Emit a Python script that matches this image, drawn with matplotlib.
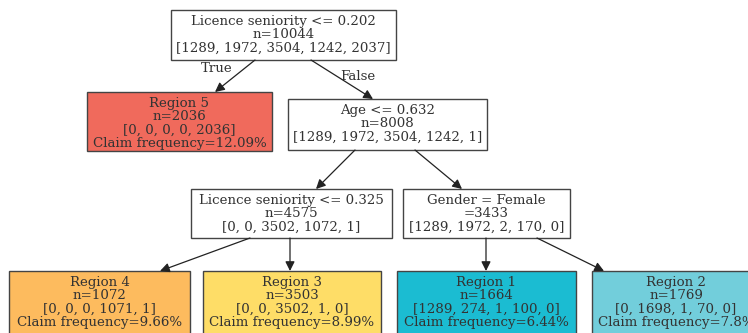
import matplotlib
matplotlib.use('Agg')
import matplotlib.pyplot as plt
from matplotlib.patches import Rectangle, FancyArrowPatch

# node texts
node_names = ['root', 'r5', 'age', 'lic', 'gender', 'r4', 'r3', 'r1', 'r2']
node_labels = [
    'Licence seniority <= 0.202\nn=10044\n[1289, 1972, 3504, 1242, 2037]',
    'Region 5\nn=2036\n[0, 0, 0, 0, 2036]\nClaim frequency=12.09%',
    'Age <= 0.632\nn=8008\n[1289, 1972, 3504, 1242, 1]',
    'Licence seniority <= 0.325\nn=4575\n[0, 0, 3502, 1072, 1]',
    'Gender = Female\n=3433\n[1289, 1972, 2, 170, 0]',
    'Region 4\nn=1072\n[0, 0, 0, 1071, 1]\nClaim frequency=9.66%',
    'Region 3\nn=3503\n[0, 0, 3502, 1, 0]\nClaim frequency=8.99%',
    'Region 1\nn=1664\n[1289, 274, 1, 100, 0]\nClaim frequency=6.44%',
    'Region 2\nn=1769\n[0, 1698, 1, 70, 0]\nClaim frequency=7.8%',
]
node_colors = ['white', '#f06a5c', 'white', 'white', 'white',
               '#fdbb5e', '#fedd67', '#1bbcd2', '#72cedb']
edges = [('root', 'r5'), ('root', 'age'), ('age', 'lic'), ('age', 'gender'),
         ('lic', 'r4'), ('lic', 'r3'), ('gender', 'r1'), ('gender', 'r2')]
edge_labels = {('root', 'r5'): 'True', ('root', 'age'): 'False'}

# layout in pixels: x0, y0, x1, y1
boxes = {
    'root': (171, 10, 396, 60),
    'r5': (87, 92, 272, 151),
    'age': (288, 99, 487, 150),
    'lic': (191, 189, 392, 238),
    'gender': (403, 189, 570, 238),
    'r4': (9, 271, 190, 340),
    'r3': (203, 271, 381, 340),
    'r1': (397, 271, 576, 340),
    'r2': (592, 271, 760, 340),
}
# arrow start/end points
arrow_pts = {
    ('root', 'r5'): ((255, 60), (215, 92)),
    ('root', 'age'): ((311, 60), (373, 99)),
    ('age', 'lic'): ((355, 150), (316, 189)),
    ('age', 'gender'): ((415, 150), (462, 189)),
    ('lic', 'r4'): ((250, 238), (160, 271)),
    ('lic', 'r3'): ((290, 238), (290, 271)),
    ('gender', 'r1'): ((486, 238), (486, 271)),
    ('gender', 'r2'): ((537, 238), (604, 271)),
}
edge_label_pos = {('root', 'r5'): (217, 69), ('root', 'age'): (358, 76)}

fig = plt.figure(figsize=(7.48, 3.33), dpi=100)
ax = fig.add_axes([0, 0, 1, 1])
ax.set_xlim(0, 748)
ax.set_ylim(333, 0)
ax.axis('off')

for name, lab, col in zip(node_names, node_labels, node_colors):
    x0, y0, x1, y1 = boxes[name]
    ax.add_patch(Rectangle((x0, y0), x1 - x0, y1 - y0, facecolor=col,
                           edgecolor='#444444', lw=1.0))
    nl = lab.count('\n') + 1
    ytop = y0 + 11
    ax.text((x0 + x1) / 2, ytop - 7 + nl * 13.8 / 2, lab, ha='center', va='center',
            family='DejaVu Serif', fontsize=9.6, color='#333333', linespacing=1.05)

for e in edges:
    (xa, ya), (xb, yb) = arrow_pts[e]
    ax.add_patch(FancyArrowPatch((xa, ya), (xb, yb), arrowstyle='-|>',
                                 mutation_scale=14, color='#222222', lw=0.9,
                                 shrinkA=0, shrinkB=0))
    if e in edge_labels:
        ax.text(*edge_label_pos[e], edge_labels[e], ha='center', va='center',
                family='DejaVu Serif', fontsize=9.6, color='#333333')

fig.savefig('out.png', dpi=100)
